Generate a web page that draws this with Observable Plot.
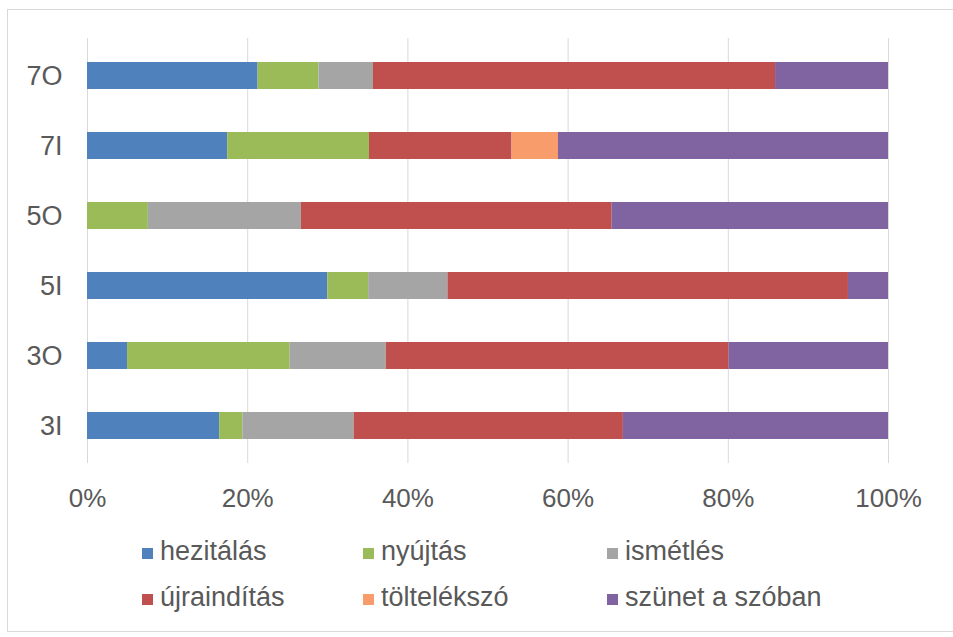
<!DOCTYPE html>
<html>
<head>
<meta charset="utf-8">
<script src="https://cdn.jsdelivr.net/npm/d3@7"></script>
<script src="https://cdn.jsdelivr.net/npm/@observablehq/plot@0.6"></script>
<style>
  html, body { margin: 0; padding: 0; background: #fff; }
  #wrap { position: relative; width: 953px; height: 637px; overflow: hidden; font-family: "Liberation Sans", Arial, sans-serif; }
  #frame { position: absolute; left: 7px; top: 9px; width: 980px; height: 623px; border: 1px solid #d9d9d9; box-sizing: border-box; }
  #chart { position: absolute; left: 0; top: 0; }
  .lg { position: absolute; font-size: 27px; color: #595959; white-space: nowrap; line-height: 1; }
  .sw { position: absolute; width: 11px; height: 11px; }
</style>
</head>
<body>
<div id="wrap">
  <div id="frame"></div>
  <div id="chart"></div>
</div>
<script>
const categories = ["7O", "7I", "5O", "5I", "3O", "3I"];
const series = ["hezitálás", "nyújtás", "ismétlés", "újraindítás", "töltelékszó", "szünet a szóban"];
const colors = ["#4F81BD", "#9BBB59", "#A5A5A5", "#C0504D", "#F79C6A", "#8064A2"];
const hezitalas   = [21.3, 17.5, 0,    30.0, 5.0,  16.5];
const nyujtas     = [7.6,  17.7, 7.6,  5.1,  20.3, 2.9];
const ismetles    = [6.8,  0,    19.1, 9.9,  12.0, 13.9];
const ujrainditas = [50.2, 17.8, 38.8, 50.0, 42.8, 33.6];
const toltelekszo = [0,    5.8,  0,    0,    0,    0];
const szunet      = [14.1, 41.2, 34.5, 5.0,  19.9, 33.1];
const xTicks = [0, 0.2, 0.4, 0.6, 0.8, 1];

const valuesBySeries = [hezitalas, nyujtas, ismetles, ujrainditas, toltelekszo, szunet];
const data = [];
series.forEach((s, i) => {
  categories.forEach((c, j) => {
    data.push({category: c, series: s, value: valuesBySeries[i][j]});
  });
});

const chart = Plot.plot({
  width: 953,
  height: 520,
  marginLeft: 87,
  marginRight: 65,
  marginTop: 38,
  marginBottom: 57,
  style: {fontFamily: "'Liberation Sans', Arial, sans-serif", color: "#595959", background: "transparent"},
  x: {domain: [0, 1], ticks: xTicks, tickFormat: d => Math.round(d * 100) + "%", label: null},
  y: {domain: categories, paddingInner: 0.613, paddingOuter: 0.3, label: null},
  color: {domain: series, range: colors},
  marks: [
    Plot.gridX(xTicks, {stroke: "#d9d9d9", strokeOpacity: 1, strokeWidth: 1}),
    Plot.barX(data, Plot.stackX({x: "value", y: "category", fill: "series", offset: "normalize", order: null})),
    Plot.axisX({ticks: xTicks, tickFormat: d => Math.round(d * 100) + "%", tickSize: 0, tickPadding: 25, fontSize: 26, fill: "#595959", label: null}),
    Plot.axisY({tickSize: 0, tickPadding: 25, fontSize: 27, fill: "#595959", label: null})
  ]
});
document.getElementById("chart").appendChild(chart);

// legend
const wrap = document.getElementById("wrap");
const colX = [142, 363, 607];
const rowBase = [563, 609];
series.forEach((s, i) => {
  const col = i % 3, row = Math.floor(i / 3);
  const sw = document.createElement("div");
  sw.className = "sw";
  sw.style.background = colors[i];
  sw.style.left = colX[col] + "px";
  sw.style.top = (rowBase[row] - 15) + "px";
  wrap.appendChild(sw);
  const t = document.createElement("div");
  t.className = "lg";
  t.textContent = s;
  t.style.left = (colX[col] + 18) + "px";
  t.style.top = (rowBase[row] - 25) + "px";
  wrap.appendChild(t);
});
</script>
</body>
</html>
